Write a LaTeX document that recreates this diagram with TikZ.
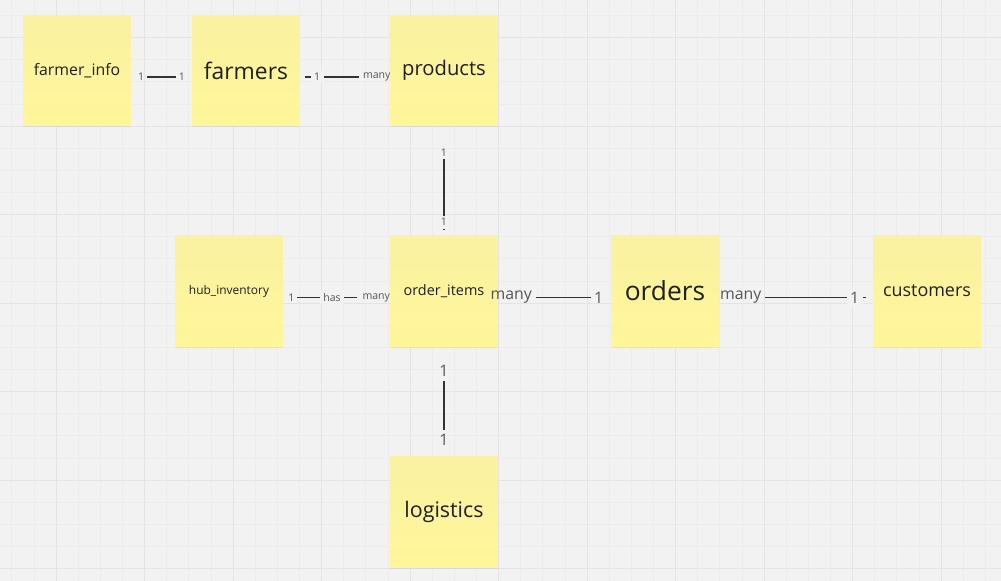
\documentclass[tikz,border=0pt]{standalone}
\usepackage{fontspec}
\setmainfont{Open Sans}
\usepackage{tikz}
\usepackage{xcolor}
\usetikzlibrary{shadows}
\definecolor{board}{HTML}{F2F2F2}
\definecolor{minorline}{HTML}{ECECEC}
\definecolor{majorline}{HTML}{E4E4E4}
\definecolor{notetop}{HTML}{FAF1A2}
\definecolor{notebottom}{HTML}{FFF69A}
\definecolor{linkgray}{HTML}{333333}
\definecolor{taggray}{HTML}{555555}

\begin{document}
\begin{tikzpicture}[x=0.02cm, y=-0.02cm,
    note/.style={rectangle, minimum width=2.16cm, minimum height=2.22cm, inner sep=0pt,
        top color=notetop, bottom color=notebottom, text=black!88,
        drop shadow={shadow xshift=0pt, shadow yshift=-0.8pt, opacity=0.1}},
    link/.style={draw=linkgray, line width=1.1pt},
    tag/.style={font=\fontsize{6}{7}\selectfont, text=taggray, inner sep=0pt},
    bigtag/.style={font=\fontsize{9}{10}\selectfont, text=taggray, inner sep=0pt},
    gap/.style={fill=board, inner xsep=2pt, inner ysep=1.5pt}]
                \fill[board] (0,0) rectangle (1001,581);
                \begin{scope}
                \clip (0,0) rectangle (1001,581);
                \foreach \k in {-3,...,45} \draw[minorline, line width=0.4pt] ({56+22.125*\k},0) -- ({56+22.125*\k},581);
                \foreach \k in {-2,...,27} \draw[minorline, line width=0.4pt] (0,{37.5+22.125*\k}) -- (1001,{37.5+22.125*\k});
                \foreach \k in {-1,...,11} \draw[majorline, line width=0.5pt] ({56+88.5*\k},0) -- ({56+88.5*\k},581);
                \foreach \k in {-1,...,6} \draw[majorline, line width=0.5pt] (0,{37.5+88.5*\k}) -- (1001,{37.5+88.5*\k});
                \end{scope}
                \useasboundingbox (0,0) rectangle (1001,581);

                \node[note, font=\fontsize{9}{11}\selectfont] (finfo) at (77,70.5) {farmer\_info};
                \node[note, font=\fontsize{13}{15}\selectfont] (farmers) at (246,70.5) {farmers};
                \node[note, font=\fontsize{11.5}{13}\selectfont] (products) at (444,70.5) {products};
                \node[note, font=\fontsize{6.8}{8}\selectfont] (hub) at (229,291) {hub\_inventory};
                \node[note, font=\fontsize{8.2}{10}\selectfont] (items) at (444,291) {order\_items};
                \node[note, font=\fontsize{15}{17}\selectfont] (orders) at (665,291) {orders};
                \node[note, font=\fontsize{10.2}{12}\selectfont] (customers) at (927,291) {customers};
                \node[note, font=\fontsize{12.2}{14}\selectfont] (logistics) at (444,512) {logistics};

                \draw[link, shorten <=0.32cm, shorten >=0.32cm] ([yshift=-0.13cm]finfo.east) -- ([yshift=-0.13cm]farmers.west)
                    node[tag, pos=0.164]{1} node[tag, pos=0.836]{1};
                \draw[link, shorten <=0.1cm, shorten >=0.62cm] ([yshift=-0.13cm]farmers.east) -- ([yshift=-0.13cm]products.west)
                    node[tag, gap, pos=0.189]{1} node[tag, pos=0.856]{many};
                \draw[link, shorten <=0.66cm, shorten >=0.1cm] (products) -- (items)
                    node[tag, pos=0.239]{1} node[tag, gap, pos=0.881]{1};
                \draw[link, shorten <=0.28cm, shorten >=0.66cm] ([yshift=-0.13cm]hub.east) -- ([yshift=-0.13cm]items.west)
                    node[tag, pos=0.075]{1} node[tag, gap, pos=0.458]{has} node[tag, pos=0.874]{many};
                \draw[link, shorten <=0.76cm, shorten >=0.4cm] ([yshift=-0.13cm]items.east) -- ([yshift=-0.13cm]orders.west)
                    node[bigtag, pos=0.115]{many} node[bigtag, pos=0.894]{1};
                \draw[link, shorten <=0.92cm, shorten >=0.14cm] ([yshift=-0.13cm]orders.east) -- ([yshift=-0.13cm]customers.west)
                    node[bigtag, pos=0.140]{many} node[bigtag, gap, pos=0.883]{1};
                \draw[link, shorten <=0.68cm, shorten >=0.52cm] (items) -- (logistics)
                    node[bigtag, pos=0.22]{1} node[bigtag, pos=0.853]{1};
            \end{tikzpicture}
\end{document}
